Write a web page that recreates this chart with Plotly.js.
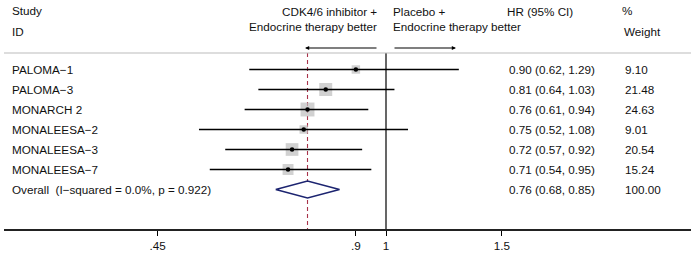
<!DOCTYPE html>
<html>
<head>
<meta charset="utf-8">
<script src="https://cdn.plot.ly/plotly-3.0.1.min.js"></script>
<style>html,body{margin:0;padding:0;background:#fff;}#chart{width:696px;height:254px;}</style>
</head>
<body>
<div id="chart"></div>
<script>
var studies = ['PALOMA\u22121', 'PALOMA\u22123', 'MONARCH 2', 'MONALEESA\u22122', 'MONALEESA\u22123', 'MONALEESA\u22127'];
var hr = [0.90, 0.81, 0.76, 0.75, 0.72, 0.71];
var lower = [0.62, 0.64, 0.61, 0.52, 0.57, 0.54];
var upper = [1.29, 1.03, 0.94, 1.08, 0.92, 0.95];
var weight = [9.10, 21.48, 24.63, 9.01, 20.54, 15.24];
var overallLabel = 'Overall  (I\u2212squared = 0.0%, p = 0.922)';
var overallHR = 0.76, overallLower = 0.68, overallUpper = 0.85, overallWeight = 100.00;
var tickVals = [0.45, 0.9, 1, 1.5];
var tickText = ['.45', '.9', '1', '1.5'];

var W = 696, H = 254, L = 4, R = 5, B = 25;
var plotW = W - L - R;
function px(x) { return (x - L) / plotW; }
function rowOfPx(p) { return (p - 69.5) / 20; }
var yTop = rowOfPx(0), yBot = rowOfPx(H - B);
var lineTop = rowOfPx(53);

var font = {family: 'Liberation Sans, Arial, sans-serif', size: 11.7, color: '#111'};
var rows = studies.map(function (_, i) { return i; });
var nR = studies.length;

var traces = [];
traces.push({x: [1, 1], y: [lineTop, yBot], mode: 'lines', line: {color: '#000', width: 1.2}, hoverinfo: 'skip', showlegend: false});
traces.push({x: [overallHR, overallHR], y: [lineTop, yBot], mode: 'lines', line: {color: '#a8324a', width: 1.1, dash: '4px,3px'}, hoverinfo: 'skip', showlegend: false});
traces.push({x: hr, y: rows, mode: 'markers', marker: {symbol: 'square', color: '#bdbdbd', size: weight.map(function (w) { return 2.8 * Math.sqrt(w); }), line: {width: 0}}, hoverinfo: 'skip', showlegend: false});
traces.push({x: hr, y: rows, mode: 'markers', marker: {size: 0.1, color: 'rgba(0,0,0,0)'},
  error_x: {type: 'data', symmetric: false, array: hr.map(function (h, i) { return upper[i] - h; }), arrayminus: hr.map(function (h, i) { return h - lower[i]; }), width: 0, thickness: 1.5, color: '#000'},
  hoverinfo: 'skip', showlegend: false});
traces.push({x: hr, y: rows, mode: 'markers', marker: {symbol: 'circle', size: 4.5, color: '#000'}, hoverinfo: 'skip', showlegend: false});
traces.push({x: [overallLower, overallHR, overallUpper, overallHR, overallLower], y: [nR, nR - 0.42, nR, nR + 0.42, nR], mode: 'lines', fill: 'toself', fillcolor: '#fff', line: {color: '#1c2470', width: 1.5}, hoverinfo: 'skip', showlegend: false});

var ann = [];
function txt(t, x, y, anchor) {
  ann.push({text: t, x: px(x), xref: 'paper', y: rowOfPx(y), yref: 'y', xanchor: anchor || 'left', yanchor: 'middle', showarrow: false, font: font, borderpad: 0});
}
txt('Study', 11, 10.5); txt('ID', 11, 31);
txt('CDK4/6 inhibitor +', 378, 11.5, 'right'); txt('Endocrine therapy better', 378, 26.5, 'right');
txt('Placebo +', 392, 11.5); txt('Endocrine therapy better', 392, 26.5);
txt('HR (95% CI)', 506, 11); txt('%', 621, 10.5); txt('Weight', 623, 31);
studies.forEach(function (s, i) {
  var yp = 69.5 + 20 * i;
  txt(s, 11, yp);
  txt(hr[i].toFixed(2) + ' (' + lower[i].toFixed(2) + ', ' + upper[i].toFixed(2) + ')', 508, yp);
  txt(weight[i].toFixed(2), 624, yp);
});
var yo = 69.5 + 20 * nR;
txt(overallLabel, 11, yo);
txt(overallHR.toFixed(2) + ' (' + overallLower.toFixed(2) + ', ' + overallUpper.toFixed(2) + ')', 508, yo);
txt(overallWeight.toFixed(2), 624, yo);
ann.push({text: '', x: px(305), xref: 'paper', y: rowOfPx(48), yref: 'y', ax: 73, ay: 0, showarrow: true, arrowhead: 2, arrowsize: 0.7, arrowwidth: 1.2, arrowcolor: '#000'});
ann.push({text: '', x: px(456), xref: 'paper', y: rowOfPx(48), yref: 'y', ax: -63, ay: 0, showarrow: true, arrowhead: 2, arrowsize: 0.7, arrowwidth: 1.2, arrowcolor: '#000'});

var lnPx = 286;
function lg(p) { return (p - 386) / lnPx / Math.LN10; }

var layout = {
  width: W, height: H,
  margin: {l: L, r: R, t: 0, b: B},
  paper_bgcolor: '#fff', plot_bgcolor: '#fff',
  showlegend: false,
  xaxis: {type: 'log', range: [lg(L), lg(W - R)], tickvals: tickVals, ticktext: tickText, ticks: 'outside', ticklen: 5, tickwidth: 1, tickcolor: '#000',
    showline: true, linecolor: '#222', linewidth: 1.5, showgrid: false, zeroline: false, tickfont: font, fixedrange: true},
  yaxis: {range: [yBot, yTop], visible: false, showgrid: false, zeroline: false, fixedrange: true},
  shapes: [{type: 'line', xref: 'paper', x0: 0, x1: 1, yref: 'y', y0: lineTop, y1: lineTop, line: {color: '#bbbbbb', width: 1}}],
  annotations: ann
};
Plotly.newPlot('chart', traces, layout, {displayModeBar: false, staticPlot: true});
</script>
</body>
</html>
